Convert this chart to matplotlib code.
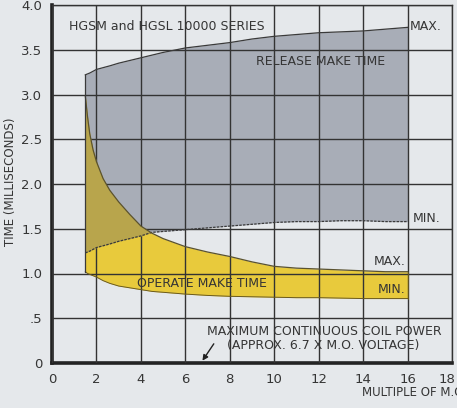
# release / operate make time vs. multiple of must-operate voltage
import numpy as np
import matplotlib.pyplot as plt
import matplotlib.transforms as mtransforms

plt.rcParams['font.family'] = ['DejaVu Sans']

x = [1.5, 1.6, 1.7, 1.85, 2.0, 2.3, 2.6, 3.0, 3.5, 4.0, 4.5, 5.0,
     6, 7, 8, 9, 10, 11, 12, 13, 14, 15, 16]
release_max = [3.22, 3.23, 3.24, 3.26, 3.28, 3.30, 3.32, 3.35, 3.38, 3.41, 3.44, 3.47,
               3.52, 3.55, 3.58, 3.62, 3.65, 3.67, 3.69, 3.70, 3.71, 3.73, 3.75]
release_min = [1.23, 1.24, 1.25, 1.27, 1.29, 1.31, 1.33, 1.36, 1.39, 1.42, 1.46, 1.47,
               1.49, 1.51, 1.53, 1.55, 1.57, 1.58, 1.58, 1.59, 1.59, 1.58, 1.58]
operate_max = [2.98, 2.75, 2.56, 2.38, 2.25, 2.06, 1.93, 1.80, 1.66, 1.53, 1.45, 1.39,
               1.30, 1.24, 1.19, 1.13, 1.08, 1.06, 1.05, 1.04, 1.03, 1.02, 1.02]
operate_min = [1.02, 1.00, 0.99, 0.975, 0.96, 0.92, 0.89, 0.86, 0.84, 0.82, 0.80, 0.79,
               0.77, 0.755, 0.745, 0.74, 0.735, 0.73, 0.73, 0.725, 0.72, 0.72, 0.72]

x_ticks = [0, 2, 4, 6, 8, 10, 12, 14, 16, 18]
y_ticks = [0, 0.5, 1.0, 1.5, 2.0, 2.5, 3.0, 3.5, 4.0]
y_labels = ['0', '.5', '1.0', '1.5', '2.0', '2.5', '3.0', '3.5', '4.0']
coil_power_x = 6.7

bg = '#e5e8eb'
ink = '#353535'

fig = plt.figure(figsize=(4.57, 4.08), dpi=100, facecolor=bg)
ax = fig.add_axes([52/457, 45/408, 400/457, 358/408])
ax.set_facecolor(bg)

xa = np.array(x)
rmin = np.array(release_min)
omax = np.array(operate_max)

ax.fill_between(xa, release_min, release_max, color='#a8adb7', lw=0, zorder=1)
ax.fill_between(xa, operate_min, operate_max, color='#e8ca3c', lw=0, zorder=2)
ax.fill_between(xa, rmin, omax, where=omax > rmin, interpolate=True,
                color='#b8a54c', lw=0, zorder=3)

ax.plot(x, release_max, color='#3a3a3a', lw=0.9, zorder=4)
ax.plot(x, release_min, color='#3a3a3a', lw=0.9, ls=(0, (2, 1)), zorder=4)
ax.plot(x, operate_max, color='#5a5230', lw=0.9, zorder=4)
ax.plot(x, operate_min, color='#6a5a20', lw=0.7, zorder=4)
ax.plot([x[0], x[0]], [operate_min[0], release_max[0]], color='#3a3a3a', lw=0.9, zorder=4)
ax.plot([x[-1], x[-1]], [operate_min[-1], operate_max[-1]], color='#6a5a20', lw=0.6, zorder=4)

ax.set_xlim(0, 18)
ax.set_ylim(0, 4.0)
ax.set_xticks(x_ticks)
ax.set_yticks(y_ticks)
ax.set_yticklabels(y_labels)
ax.grid(True, color='#333333', lw=1.0, zorder=5)
ax.set_axisbelow(False)
ax.tick_params(length=0, labelsize=9.5, colors=ink, pad=7)

# nudge the last x label inside the figure
last = ax.get_xticklabels()[-1]
last.set_transform(last.get_transform() +
                   mtransforms.ScaledTranslation(-5/100, 0, fig.dpi_scale_trans))

for side in ['top', 'right']:
    ax.spines[side].set_linewidth(1.0)
    ax.spines[side].set_color('#333333')
for side in ['left', 'bottom']:
    ax.spines[side].set_linewidth(2.6)
    ax.spines[side].set_color('#222222')

fig.text(11/457, 1 - 182/408, 'TIME (MILLISECONDS)', fontsize=8.5, color=ink,
         rotation=90, va='center', ha='center')
fig.text(362/457, 1 - 393/408, 'MULTIPLE OF M.O. VOLTAGE', fontsize=8.5, color=ink,
         va='center', ha='left')

lbl = dict(fontsize=9, color=ink, zorder=6)
ax.text(0.75, 3.76, 'HGSM and HGSL 10000 SERIES', va='center', ha='left', **lbl)
ax.text(16.1, 3.76, 'MAX.', va='center', ha='left', **lbl)
ax.text(12.1, 3.37, 'RELEASE MAKE TIME', va='center', ha='center', **lbl)
ax.text(16.25, 1.62, 'MIN.', va='center', ha='left', **lbl)
ax.text(15.9, 1.13, 'MAX.', va='center', ha='right', **lbl)
ax.text(15.9, 0.82, 'MIN.', va='center', ha='right', **lbl)
ax.text(6.75, 0.89, 'OPERATE MAKE TIME', va='center', ha='center', **lbl)
ax.text(12.25, 0.35, 'MAXIMUM CONTINUOUS COIL POWER', va='center', ha='center', **lbl)
ax.text(12.2, 0.19, '(APPROX. 6.7 X M.O. VOLTAGE)', va='center', ha='center', **lbl)
ax.annotate('', xy=(coil_power_x, 0), xytext=(7.35, 0.24),
            arrowprops=dict(arrowstyle='-|>', color='#222222', lw=1.0,
                            mutation_scale=8), zorder=6)

fig.savefig('out.png', dpi=100, facecolor=bg)
